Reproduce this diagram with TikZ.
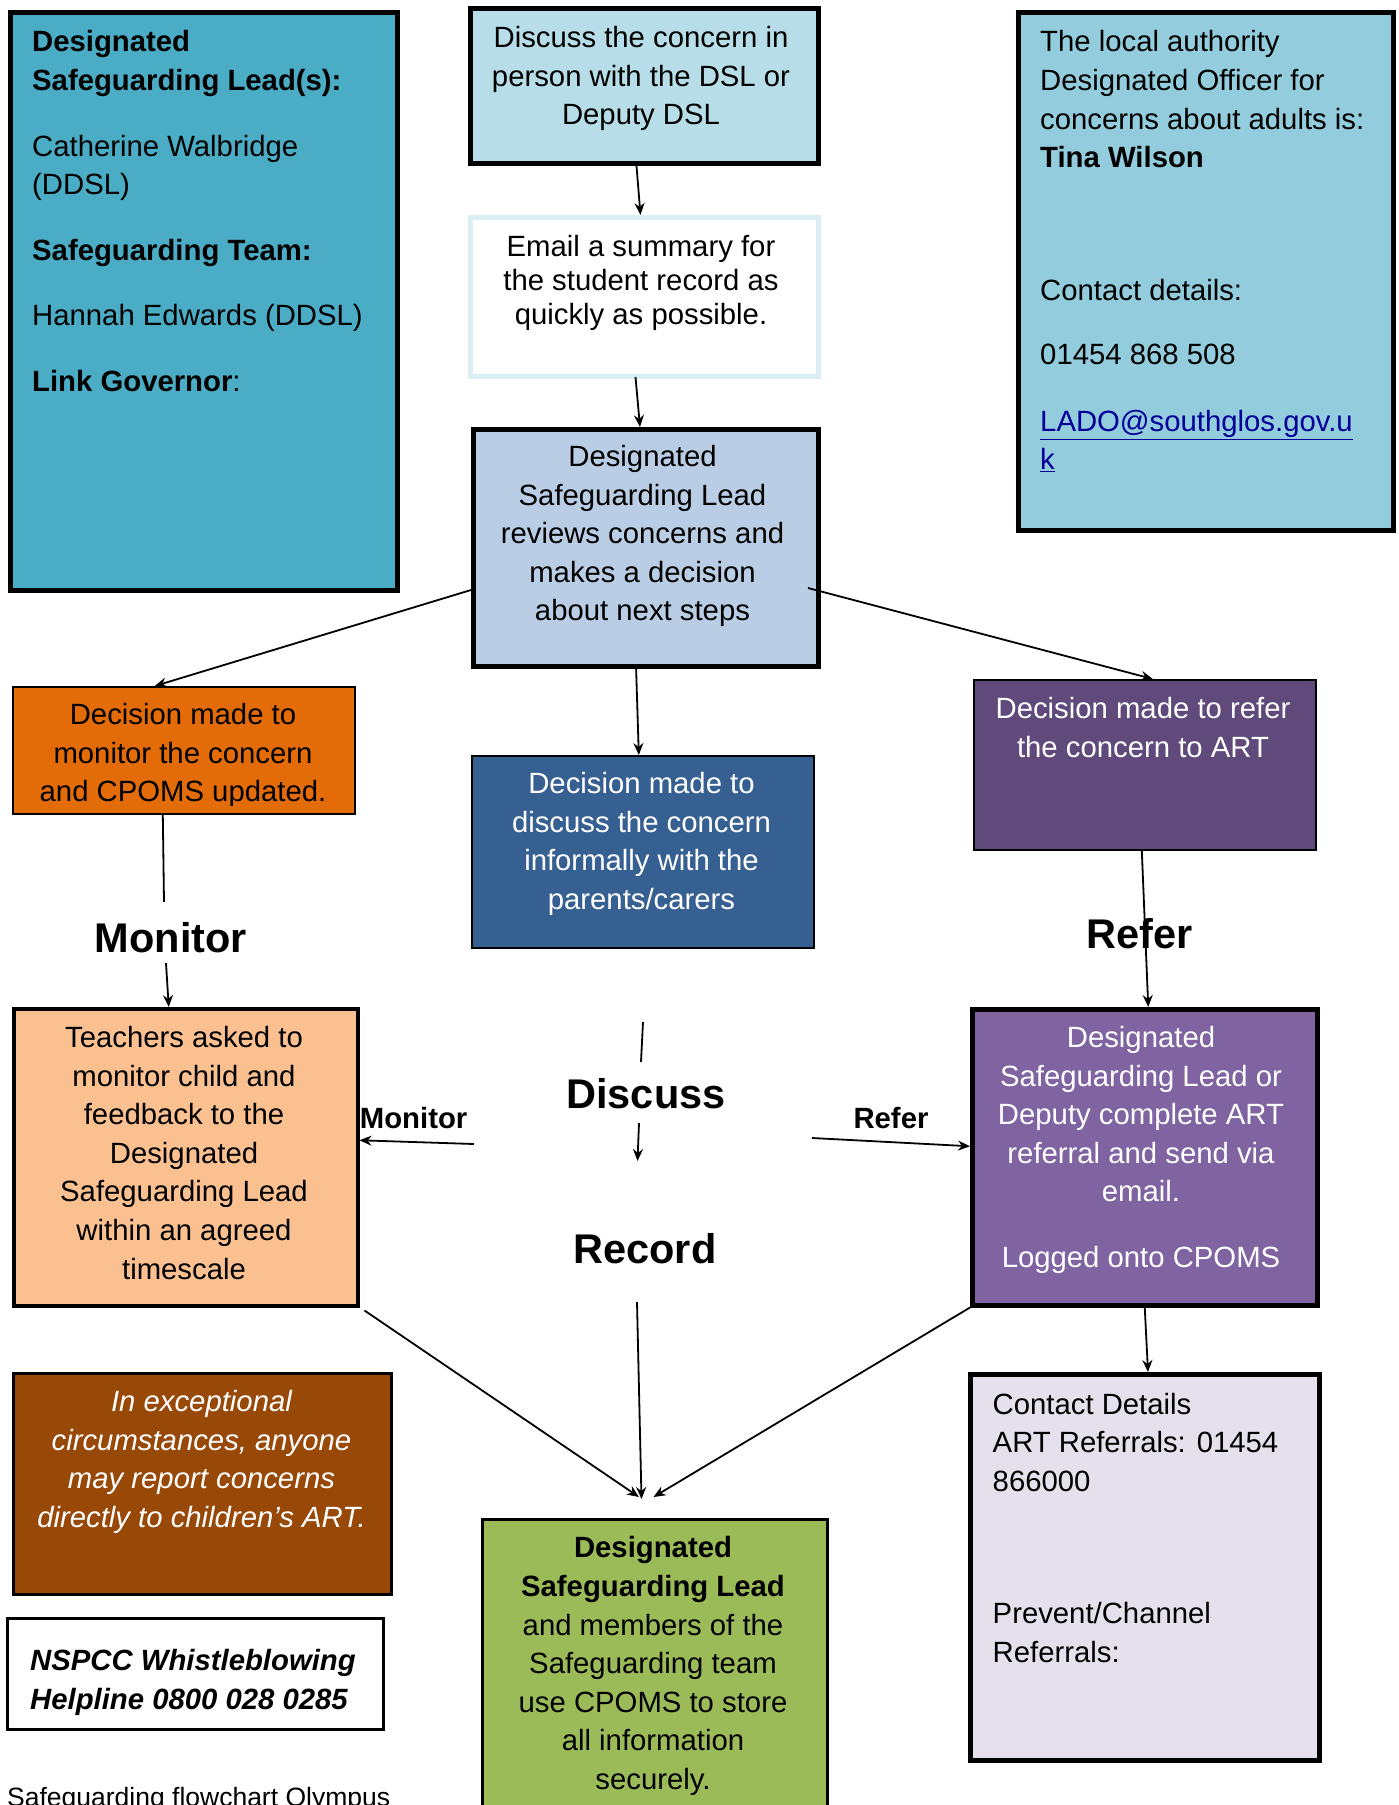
\documentclass[tikz,border=0pt]{standalone}
\usepackage{fontspec}
\setmainfont{Liberation Sans}
\usetikzlibrary{arrows.meta}

\definecolor{dslblue}{HTML}{4BACC6}
\definecolor{discussblue}{HTML}{B7DEE8}
\definecolor{emailline}{HTML}{DAEEF3}
\definecolor{reviewblue}{HTML}{B9CDE5}
\definecolor{monorange}{HTML}{E36C09}
\definecolor{informalblue}{HTML}{366092}
\definecolor{referpurple}{HTML}{604A7B}
\definecolor{teachpeach}{HTML}{FAC090}
\definecolor{artpurple}{HTML}{8064A2}
\definecolor{contactlilac}{HTML}{E5E0EC}
\definecolor{exbrown}{HTML}{984807}
\definecolor{recgreen}{HTML}{9BBB59}
\definecolor{ladoblue}{HTML}{93CDDD}
\definecolor{linkblue}{HTML}{000099}

\newcommand\flowfont{\fontsize{29.3pt}{38.6pt}\selectfont}
\newcommand\headfont{\fontsize{41.5pt}{48pt}\selectfont}

\tikzset{
  box/.style={draw, rectangle, anchor=north west, inner sep=0pt},
  thickbox/.style={box, line width=5pt},
  midbox/.style={box, line width=3pt},
  thinbox/.style={box, line width=1.6pt},
  txt/.style={anchor=north, align=center, inner sep=0pt, font=\flowfont, execute at begin node=\strut},
  ltxt/.style={anchor=north west, align=left, inner sep=0pt, font=\flowfont, execute at begin node=\strut},
  lbl/.style={anchor=base, inner sep=0pt, font=\headfont\bfseries, text height=30pt, text depth=0pt},
  smalllbl/.style={anchor=base, inner sep=0pt, font=\flowfont\bfseries, text height=21pt, text depth=0pt},
  ln/.style={line width=1.8pt},
  arr/.style={ln, -{Stealth[length=12pt,width=10pt,inset=4pt]}}
}

\begin{document}
\begin{tikzpicture}[x=1pt,y=-1pt]
\useasboundingbox (0,0) rectangle (1399,1805);

% boxes
\node[thickbox, fill=dslblue, minimum width=387, minimum height=578] (dsl) at (8,10) {};
\node[thickbox, fill=discussblue, minimum width=348, minimum height=155] (discuss) at (468,6) {};
\node[box, line width=5pt, draw=emailline, fill=white, minimum width=348, minimum height=159] (email) at (468,215) {};
\node[thickbox, fill=reviewblue, minimum width=345, minimum height=237] (reviews) at (471,427) {};
\node[thinbox, fill=monorange, minimum width=342, minimum height=127] (monitor) at (12,686) {};
\node[thinbox, fill=informalblue, minimum width=342, minimum height=192] (informal) at (471,755) {};
\node[thinbox, fill=referpurple, minimum width=342, minimum height=170] (refer) at (973,679) {};
\node[box, line width=3.5pt, fill=teachpeach, minimum width=344, minimum height=297] (teachers) at (12,1007) {};
\node[box, line width=4.5pt, fill=artpurple, minimum width=345, minimum height=296] (art) at (970,1007) {};
\node[midbox, fill=exbrown, minimum width=378, minimum height=221] (brown) at (12,1372) {};
\node[midbox, fill=white, minimum width=376, minimum height=111] (nspcc) at (6,1617) {};
\node[thickbox, fill=contactlilac, minimum width=349, minimum height=386] (contact) at (968,1372) {};
\node[midbox, fill=recgreen, minimum width=345, minimum height=330] (green) at (481,1518) {};
\node[thickbox, fill=ladoblue, minimum width=375, minimum height=518] (lado) at (1016,10) {};

% texts
\node[ltxt] (dsltxt) at (32,30.5) {\textbf{Designated}\\ \textbf{Safeguarding Lead(s):}\\[27pt]
  Catherine Walbridge\\ (DDSL)\\[27pt] \textbf{Safeguarding Team:}\\[27pt]
  Hannah Edwards (DDSL)\\[27pt] \textbf{Link Governor}:};
\node[txt] (discusstxt) at (641,26) {Discuss the concern in\\ person with the DSL or\\ Deputy DSL};
\node[txt, font=\fontsize{29.3pt}{34pt}\selectfont] (emailtxt) at (641,235) {Email a summary for\\ the student record as\\ quickly as possible.};
\node[txt] (reviewstxt) at (642.5,445) {Designated\\ Safeguarding Lead\\ reviews concerns and\\ makes a decision\\ about next steps};
\begin{scope}
  \clip (monitor.north west) rectangle ([yshift=9]monitor.south east);
  \node[txt] (monitortxt) at (183,703) {Decision made to\\ monitor the concern\\ and CPOMS updated.};
\end{scope}
\node[txt, text=white] (informaltxt) at (641.5,772) {Decision made to\\ discuss the concern\\ informally with the\\ parents/carers};
\node[txt, text=white] (refertxt) at (1143,697) {Decision made to refer\\ the concern to ART};
\node[txt] (teacherstxt) at (184,1026) {Teachers asked to\\ monitor child and\\ feedback to the\\ Designated\\ Safeguarding Lead\\ within an agreed\\ timescale};
\node[txt, text=white] (arttxt) at (1141,1026) {Designated\\ Safeguarding Lead or\\ Deputy complete ART\\ referral and send via\\ email.\\[27pt] Logged onto CPOMS};
\node[txt] (greentxt) at (653,1536.5) {\textbf{Designated}\\ \textbf{Safeguarding Lead}\\ and members of the\\ Safeguarding team\\ use CPOMS to store\\ all information\\ securely.};
\node[txt, text=white, font=\flowfont\itshape] (browntxt) at (201.5,1390) {In exceptional\\ circumstances, anyone\\ may report concerns\\ directly to children’s ART.};
\node[ltxt, font=\flowfont\bfseries\itshape] (nspcctxt) at (30,1649) {NSPCC Whistleblowing\\ Helpline 0800 028 0285};
\node[ltxt] (ladotxt) at (1040,30.5) {The local authority\\ Designated Officer for\\ concerns about adults is:\\ \textbf{Tina Wilson}\\[93.7pt]
  Contact details:\\[26pt] 01454 868 508\\[28pt]
  \textcolor{linkblue}{\underline{LADO@southglos.gov.u}}\\ \textcolor{linkblue}{\underline{k}}};
\node[ltxt] (contacttxt) at (992.5,1392.6) {Contact Details\\ ART Referrals: 01454\\ 866000\\[93.7pt] Prevent/Channel\\ Referrals:};
\node[anchor=base west, inner sep=0pt, font=\fontsize{26.5pt}{32pt}\selectfont] (footer) at (7,1806) {Safeguarding flowchart Olympus};

% labels
\node[lbl] (monlbl) at (171,952) {Monitor};
\node[lbl] (reflbl) at (1140,948) {Refer};
\node[lbl] (disclbl) at (646,1108) {Discuss};
\node[lbl] (reclbl) at (645,1263) {Record};
\node[smalllbl] (monsmall) at (413.6,1128) {Monitor};
\node[smalllbl] (refsmall) at (891,1128) {Refer};

\coordinate (disctop) at (643,1022);
\coordinate (discend) at (637.5,1161);
\coordinate (monstart) at (474,1144);
\coordinate (refstart) at (812,1138);

% connectors
\draw[arr] ([xshift=-8]discuss.south) -- ([xshift=-4]email.north);
\draw[arr] ([xshift=-9,yshift=2]email.south) -- ([xshift=-6]reviews.north);
\draw[arr] ([yshift=-42]reviews.west) -- ([xshift=-29]monitor.north);
\draw[arr] ([xshift=-13,yshift=-40]reviews.east) -- ([xshift=8]refer.north);
\draw[arr] ([xshift=-10,yshift=4]reviews.south) -- ([xshift=-4]informal.north);
\draw[ln] ([xshift=-21]monitor.south) -- ([xshift=-7,yshift=20]monlbl.north);
\draw[arr] ([xshift=-5,yshift=-11]monlbl.south) -- ([xshift=-17]teachers.north);
\draw[arr] ([xshift=-3]refer.south) -- ([xshift=3.5]art.north);
\draw[ln] (disctop) -- ([xshift=-5,yshift=16]disclbl.north);
\draw[arr] ([xshift=-7,yshift=-15]disclbl.south) -- (discend);
\draw[arr] (monstart) -- ([yshift=17]teachers.east);
\draw[arr] (refstart) -- ([yshift=11]art.west);
\draw[arr] ([xshift=-8,yshift=-39]reclbl.south) -- ([xshift=-13.5,yshift=19]green.north);
\draw[arr] ([xshift=5,yshift=-3]teachers.south east) -- ([xshift=-16,yshift=21]green.north);
\draw[arr] (art.south west) -- ([xshift=-1.5,yshift=21]green.north);
\draw[arr] (art.south) -- ([xshift=3]contact.north);
\end{tikzpicture}
\end{document}
